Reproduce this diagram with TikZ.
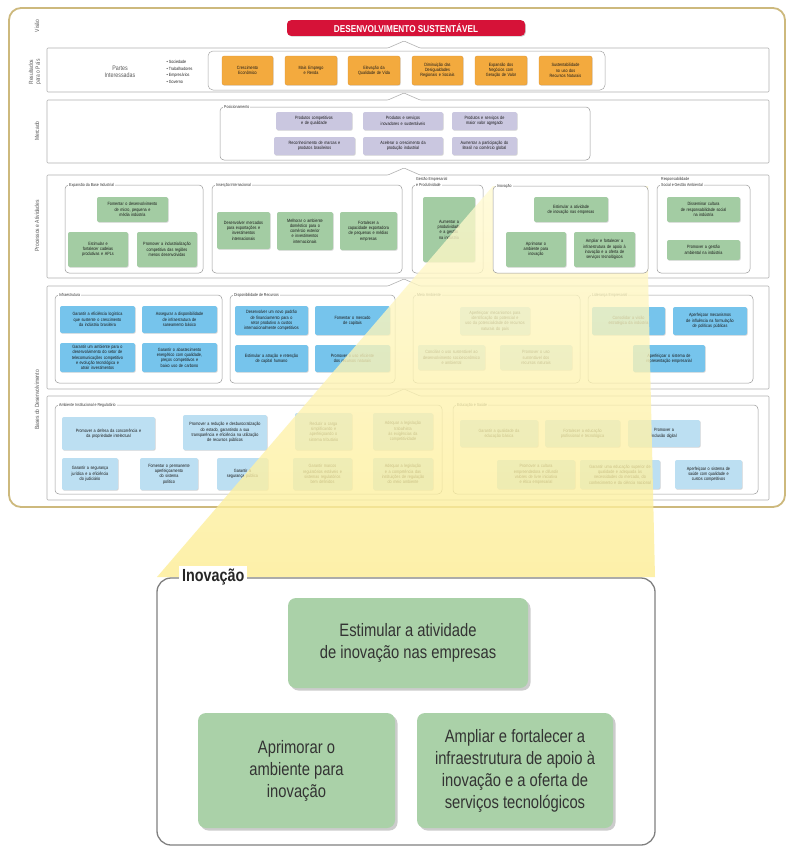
\documentclass[tikz,border=0pt]{standalone}
\usepackage{fontspec}
\setmainfont{Liberation Sans}
\newfontfamily\cond[FakeStretch=0.82]{Liberation Sans}
\usetikzlibrary{shadows}
\definecolor{grn}{RGB}{163,204,163}
\definecolor{grnbig}{RGB}{170,209,168}
\definecolor{org}{RGB}{243,170,62}
\definecolor{orgd}{RGB}{225,150,50}
\definecolor{lav}{RGB}{202,199,224}
\definecolor{blu}{RGB}{118,196,236}
\definecolor{lblu}{RGB}{188,223,242}
\definecolor{tanframe}{RGB}{205,185,125}
\definecolor{redv}{RGB}{214,18,56}
\definecolor{yel1}{RGB}{255,250,210}
\definecolor{yel2}{RGB}{253,237,145}
\newcommand\mybox[7]{%
  \pgfmathsetmacro\bw{#5-#3}\pgfmathsetmacro\bh{#6-#4}%
  \pgfmathsetmacro\bcx{(#3+#5)/2}\pgfmathsetmacro\bcy{(#4+#6)/2}%
  \pgfmathsetmacro\btw{#5-#3-2}%
  \node[#1,minimum width=\bw pt,minimum height=\bh pt,text width=\btw pt] (#2) at (\bcx,\bcy) {#7};}
\newcommand\mygrp[6]{%
  \draw[grp] (#2,#3) rectangle (#4,#5);
  \node[grplabel] (#1) at ({#2+3},#3) {#6};}
\newcommand\myband[3]{%
  \draw[band] (47,#1) -- (388,#1) -- (404,{#1-7}) -- (420,#1) -- (769,#1) -- (769,#2) -- (47,#2) -- cycle;
  \coordinate (#3) at (404,{#1-7});}
\tikzset{
  smallbox/.style={rounded corners=2pt, align=center, inner sep=0.5pt,
    font=\cond\fontsize{4.6}{5.3}\selectfont, text=black!90,
    drop shadow={shadow xshift=0.7pt,shadow yshift=-0.7pt,opacity=0.35}},
  gbox/.style={smallbox, fill=grn},
  obox/.style={smallbox, fill=org, draw=orgd, line width=0.3pt},
  pbox/.style={smallbox, fill=lav},
  bbox/.style={smallbox, fill=blu},
  lbbox/.style={smallbox, fill=lblu},
  grp/.style={draw=black!40, line width=0.5pt, rounded corners=4pt, fill=white},
  grplabel/.style={font=\cond\fontsize{4.3}{4.8}\selectfont, fill=white, inner sep=1pt, anchor=west, text=black!80},
  band/.style={draw=black!30, line width=0.6pt, fill=white, rounded corners=1pt},
  sidelabel/.style={font=\cond\fontsize{6}{6.8}\selectfont, rotate=90, text=black!65, align=center},
  bigbox/.style={rounded corners=8pt, fill=grnbig, align=center, inner sep=2pt,
    font=\cond\fontsize{18}{22}\selectfont, text=black!80,
    drop shadow={shadow xshift=2.5pt,shadow yshift=-2.5pt,opacity=0.4}},
}
\begin{document}
\begin{tikzpicture}[x=1pt,y=-1pt]
\useasboundingbox (0,0) rectangle (790,847);
\fill[white] (0,0) rectangle (790,847);
% outer frame
\draw[tanframe, line width=1.8pt, rounded corners=12pt] (9,8) rectangle (785,507);
% side labels
\node[sidelabel] (lvis) at (37,26) {Visão};
\node[sidelabel] (lres) at (35,72) {Resultados\\para o País};
\node[sidelabel] (lmer) at (37,131) {Mercado};
\node[sidelabel] (lpro) at (37,226) {Processos e Atividades};
\node[sidelabel] (lbas) at (37,400) {Bases do Desenvolvimento};
% vision
\node[fill=redv, rounded corners=4pt, minimum width=238pt, minimum height=15pt,
  font=\cond\bfseries\fontsize{10}{11}\selectfont, text=white,
  drop shadow={shadow xshift=0.8pt,shadow yshift=-0.8pt,opacity=0.4}] (vis) at (406,28) {DESENVOLVIMENTO SUSTENTÁVEL};
% bands
\myband{48}{92}{cres}
\myband{100}{163}{cmer}
\myband{175}{278}{cpro}
\myband{286}{389}{cb1}
\myband{396}{500}{cb2}
% results
\node[font=\cond\fontsize{6.5}{7.5}\selectfont, text=black!65, align=center] (partes) at (120,72) {Partes\\Interessadas};
\node[font=\cond\fontsize{4.5}{6.5}\selectfont, text=black!85, align=left, anchor=west] (bul) at (163,72) {• Sociedade\\• Trabalhadores\\• Empresários\\• Governo};
\draw[draw=black!35, line width=0.5pt, rounded corners=5pt, fill=white] (208,51) rectangle (605,90);
\mybox{obox}{r1}{222}{56}{273}{85}{Crescimento\\Econômico}
\mybox{obox}{r2}{285}{56}{337}{85}{Mais Emprego\\e Renda}
\mybox{obox}{r3}{348}{56}{400}{85}{Elevação da\\Qualidade de Vida}
\mybox{obox}{r4}{412}{56}{463}{85}{Diminuição das\\Desigualdades\\Regionais e Sociais}
\mybox{obox}{r5}{475}{56}{527}{85}{Expansão dos\\Negócios com\\Geração de Valor}
\mybox{obox}{r6}{539}{56}{592}{85}{Sustentabilidade\\no uso dos\\Recursos Naturais}
% market
\mygrp{gpos}{220}{107}{590}{160}{Posicionamento}
\mybox{pbox}{p1}{276}{112}{352}{130}{Produtos competitivos\\e de qualidade}
\mybox{pbox}{p2}{363}{112}{443}{130}{Produtos e serviços\\inovadores e sustentáveis}
\mybox{pbox}{p3}{452}{112}{517}{130}{Produtos e serviços de\\maior valor agregado}
\mybox{pbox}{p4}{274}{137}{355}{155}{Reconhecimento de marcas e\\produtos brasileiros}
\mybox{pbox}{p5}{363}{137}{443}{155}{Acelerar o crescimento da\\produção industrial}
\mybox{pbox}{p6}{452}{137}{517}{155}{Aumentar a participação do\\Brasil no comércio global}
% processes
\mygrp{gexp}{65}{185}{203}{273}{Expansão da Base Industrial}
\mybox{gbox}{e1}{97}{197}{168}{222}{Fomentar o desenvolvimento\\de micro, pequena e\\média indústria}
\mybox{gbox}{e2}{68}{232}{128}{267}{Estimular e\\fortalecer cadeias\\produtivas e APLs}
\mybox{gbox}{e3}{137}{232}{197}{267}{Promover a industrialização\\competitiva das regiões\\menos desenvolvidas}
\mygrp{gins}{212}{185}{402}{273}{Inserção Internacional}
\mybox{gbox}{i1}{217}{212}{270}{249}{Desenvolver mercados\\para exportações e\\investimentos\\internacionais}
\mybox{gbox}{i2}{277}{212}{333}{250}{Melhorar o ambiente\\doméstico para o\\comércio exterior\\e investimentos\\internacionais}
\mybox{gbox}{i3}{340}{212}{397}{250}{Fortalecer a\\capacidade exportadora\\de pequenas e médias\\empresas}
\mygrp{gges}{412}{185}{483}{273}{e Produtividade}
\node[font=\cond\fontsize{4.3}{4.8}\selectfont, text=black!80, anchor=west, inner sep=1pt] (gges2) at (415,179) {Gestão Empresarial};
\mybox{gbox}{g1}{423}{197}{475}{262}{Aumentar a\\produtividade\\e a gestão\\na indústria}
\mygrp{gres}{657}{185}{750}{273}{Social e Gestão Ambiental}
\node[font=\cond\fontsize{4.3}{4.8}\selectfont, text=black!80, anchor=west, inner sep=1pt] (gres2) at (660,179) {Responsabilidade};
\mybox{gbox}{s1}{667}{197}{740}{222}{Disseminar cultura\\de responsabilidade social\\na indústria}
\mybox{gbox}{s2}{667}{240}{740}{260}{Promover a gestão\\ambiental na indústria}
% bases row 1
\mygrp{ginf}{55}{295}{222}{383}{Infraestrutura}
\mybox{bbox}{f1}{60}{306}{135}{333}{Garantir a eficiência logística\\que sustente o crescimento\\da indústria brasileira}
\mybox{bbox}{f2}{142}{306}{217}{333}{Assegurar a disponibilidade\\de infraestrutura de\\saneamento básico}
\mybox{bbox}{f3}{60}{343}{135}{372}{Garantir um ambiente para o\\desenvolvimento do setor de\\telecomunicações competitivo\\e evolução tecnológica e\\atrair investimentos}
\mybox{bbox}{f4}{142}{343}{217}{372}{Garantir o abastecimento\\energético com qualidade,\\preços competitivos e\\baixo uso de carbono}
\mygrp{gdis}{230}{295}{395}{383}{Disponibilidade de Recursos}
\mybox{bbox}{d1}{235}{306}{308}{335}{Desenvolver um novo padrão\\de financiamento para o\\setor produtivo a custos\\internacionalmente competitivos}
\mybox{bbox}{d2}{315}{306}{390}{335}{Fomentar o mercado\\de capitais}
\mybox{bbox}{d3}{235}{345}{308}{372}{Estimular a atração e retenção\\de capital humano}
\mybox{bbox}{d4}{315}{345}{390}{372}{Promover o uso eficiente\\dos recursos naturais}
\mygrp{gmei}{413}{295}{580}{383}{Meio Ambiente}
\mybox{lbbox}{m1}{460}{307}{530}{335}{Aperfeiçoar mecanismos para\\identificação do potencial e\\uso da potencialidade de recursos\\naturais do país}
\mybox{lbbox}{m2}{418}{345}{485}{370}{Conciliar o uso sustentável ao\\desenvolvimento socioeconômico\\e ambiental}
\mybox{lbbox}{m3}{500}{345}{572}{370}{Promover o uso\\sustentável dos\\recursos naturais}
\mygrp{glid}{588}{295}{753}{383}{Liderança Empresarial}
\mybox{bbox}{l1}{592}{307}{665}{335}{Consolidar a visão\\estratégica da indústria}
\mybox{bbox}{l2}{673}{307}{747}{335}{Aperfeiçoar mecanismos\\de influência na formulação\\de políticas públicas}
\mybox{bbox}{l3}{633}{345}{705}{372}{Aperfeiçoar o sistema de\\representação empresarial}
% bases row 2
\mygrp{gamb}{55}{405}{442}{494}{Ambiente Institucional e Regulatório}
\mybox{lbbox}{a1}{62}{417}{155}{450}{Promover a defesa da concorrência e\\da propriedade intelectual}
\mybox{lbbox}{a2}{183}{415}{267}{450}{Promover a redução e desburocratização\\do estado, garantindo a sua\\transparência e eficiência na utilização\\de recursos públicos}
\mybox{lbbox}{a3}{295}{413}{352}{450}{Reduzir a carga\\simplificando e\\aperfeiçoando o\\sistema tributário}
\mybox{lbbox}{a4}{373}{413}{433}{450}{Adequar a legislação\\trabalhista\\às exigências da\\competitividade}
\mybox{lbbox}{a5}{62}{458}{118}{490}{Garantir a segurança\\jurídica e a eficiência\\do judiciário}
\mybox{lbbox}{a6}{140}{458}{198}{490}{Fomentar o permanente\\aperfeiçoamento\\do sistema\\político}
\mybox{lbbox}{a7}{217}{458}{268}{490}{Garantir a\\segurança pública}
\mybox{lbbox}{a8}{293}{458}{352}{490}{Garantir marcos\\regulatórios estáveis e\\sistemas regulatórios\\bem definidos}
\mybox{lbbox}{a9}{373}{458}{433}{490}{Adequar a legislação\\e a competência das\\instituições de regulação\\do meio ambiente}
\mygrp{gedu}{453}{405}{758}{494}{Educação e Saúde}
\mybox{lbbox}{u1}{460}{420}{538}{447}{Garantir a qualidade da\\educação básica}
\mybox{lbbox}{u2}{545}{420}{620}{447}{Fortalecer a educação\\profissional e tecnológica}
\mybox{lbbox}{u3}{628}{420}{700}{447}{Promover a\\inclusão digital}
\mybox{lbbox}{u4}{497}{460}{575}{489}{Promover a cultura\\empreendedora e difundir\\valores de livre iniciativa\\e ética empresarial}
\mybox{lbbox}{u5}{580}{460}{660}{489}{Garantir uma educação superior de\\qualidade e adequada às\\necessidades do mercado, do\\conhecimento e da ciência nacional}
\mybox{lbbox}{u6}{675}{460}{742}{489}{Aperfeiçoar o sistema de\\saúde com qualidade e\\custos competitivos}
% zoom cone
\shade[top color=yel1, bottom color=yel2, opacity=0.78] (493,186) -- (648,186) -- (648,273) -- (655,577) -- (157,577) -- cycle;
% small innovation group (on top)
\mygrp{ginv}{493}{186}{648}{273}{Inovação}
\mybox{gbox}{n1}{534}{197}{608}{222}{Estimular a atividade\\de inovação nas empresas}
\mybox{gbox}{n2}{506}{232}{566}{267}{Aprimorar o\\ambiente para\\inovação}
\mybox{gbox}{n3}{574}{232}{635}{267}{Ampliar e fortalecer a\\infraestrutura de apoio à\\inovação e a oferta de\\serviços tecnológicos}
% inset
\draw[draw=black!50, line width=1.3pt, rounded corners=14pt, fill=white] (157,578) rectangle (655,845);
\node[font=\cond\bfseries\fontsize{17.5}{19}\selectfont, text=black!85, fill=white, inner sep=3pt, anchor=west] (inset) at (179,577) {Inovação};
\node[bigbox, minimum width=240pt, minimum height=90pt] (b1) at (408,643) {Estimular a atividade\\de inovação nas empresas};
\node[bigbox, minimum width=197pt, minimum height=115pt] (b2) at (296.5,770.5) {Aprimorar o\\ambiente para\\inovação};
\node[bigbox, minimum width=196pt, minimum height=115pt] (b3) at (515,770.5) {Ampliar e fortalecer a\\infraestrutura de apoio à\\inovação e a oferta de\\serviços tecnológicos};
\end{tikzpicture}
\end{document}
